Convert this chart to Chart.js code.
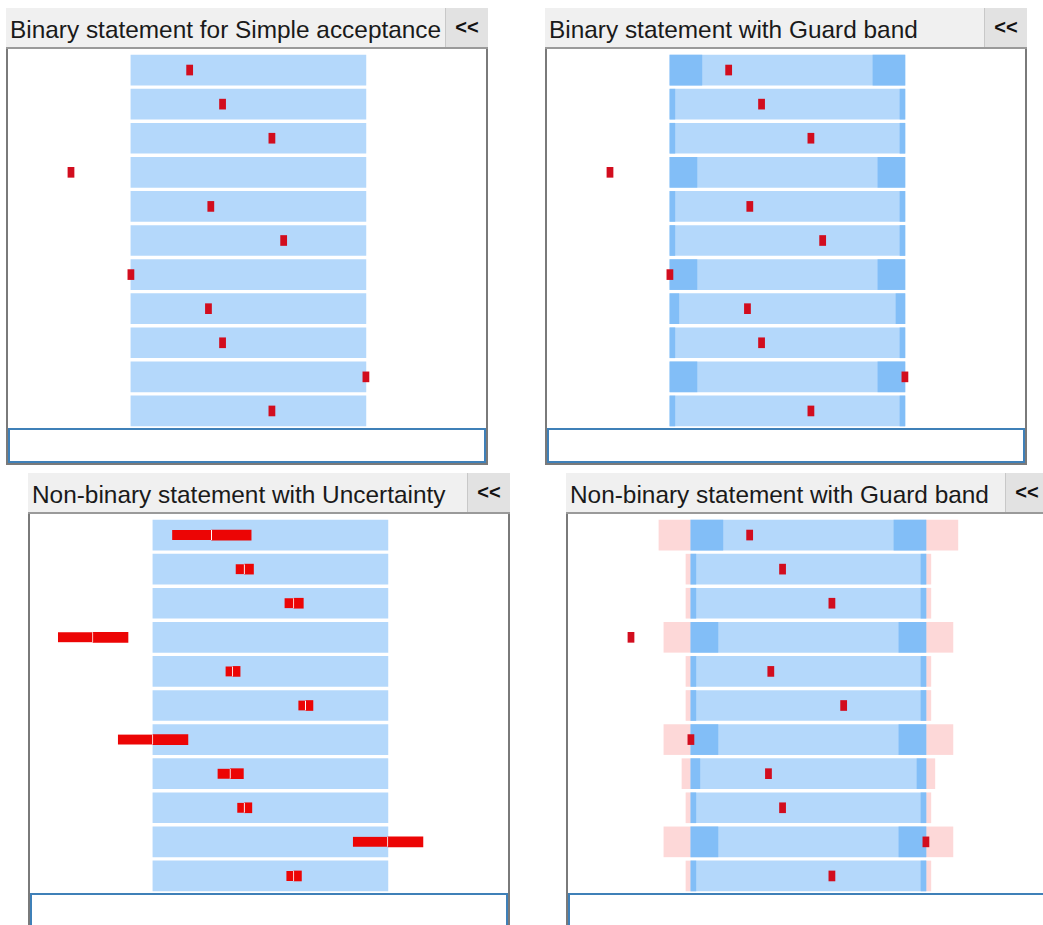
<!DOCTYPE html>
<html>
<head>
<meta charset="utf-8">
<script src="https://cdn.jsdelivr.net/npm/chart.js@4.4.1/dist/chart.umd.min.js"></script>
<style>
  body { margin: 0; width: 1043px; height: 925px; overflow: hidden; background: #fff; font-family: "Liberation Sans", Arial, sans-serif; }
  .panel { position: absolute; width: 482px; height: 457px; }
  .head { position: absolute; left: 0; top: 0; width: 482px; height: 39px; background: #f0f0f0; border-bottom: 2px solid #9a9a9a; }
  .title { position: absolute; left: 4px; top: 4px; line-height: 36px; font-size: 24.4px; color: #1a1a1a; white-space: nowrap; }
  .btn { position: absolute; right: 0; top: 0; width: 42px; height: 39px; background: #e2e2e2; border-left: 1px solid #c8c8c8; font-weight: bold; font-size: 20px; line-height: 38px; text-align: center; color: #111; }
  .body { position: absolute; left: 0; top: 41px; width: 478px; height: 414px; border: 2px solid #7a7a7a; border-top: none; }
  .body canvas { position: absolute; left: 0; top: 0; }
  .input { position: absolute; left: 0; top: 379px; width: 474px; height: 31px; border: 2px solid #3f80b8; background: #fff; }
</style>
</head>
<body>

<div class="panel" id="p1" style="left:6px; top:8px;">
  <div class="head"><div class="title">Binary statement for Simple acceptance</div><div class="btn">&lt;&lt;</div></div>
  <div class="body"><canvas id="c1" width="478" height="379"></canvas><div class="input"></div></div>
</div>
<div class="panel" id="p2" style="left:545px; top:8px;">
  <div class="head"><div class="title">Binary statement with Guard band</div><div class="btn">&lt;&lt;</div></div>
  <div class="body"><canvas id="c2" width="478" height="379"></canvas><div class="input"></div></div>
</div>
<div class="panel" id="p3" style="left:28px; top:473px;">
  <div class="head"><div class="title">Non-binary statement with Uncertainty</div><div class="btn">&lt;&lt;</div></div>
  <div class="body"><canvas id="c3" width="478" height="379"></canvas><div class="input"></div></div>
</div>
<div class="panel" id="p4" style="left:566px; top:473px;">
  <div class="head"><div class="title">Non-binary statement with Guard band</div><div class="btn">&lt;&lt;</div></div>
  <div class="body"><canvas id="c4" width="478" height="379"></canvas><div class="input"></div></div>
</div>

<script>
  const rows = ['1', '2', '3', '4', '5', '6', '7', '8', '9', '10', '11'];
  const measured = [25, 39, 60, -25.5, 34, 65, 0, 33, 39, 100, 60];
  const uncertainty = [16.8, 3.8, 4.0, 14.9, 3.1, 3.1, 14.9, 5.5, 3.1, 14.9, 3.2];
  const guardBand = [13.6, 2.1, 2.1, 11.5, 2.1, 2.1, 11.5, 3.8, 2.1, 11.5, 2.1];
  const lowerLimit = 0;
  const upperLimit = 100;

  // couleurs
  const blue = '#b4d8fb';
  const darkBlue = '#82bef7';
  const pink = '#fdd8d8';
  const markRed = '#d20d1e';
  const barRed = '#ec0505';
  const markHalf = 1.3;

  function bar(label, data, color, order, extra) {
    return Object.assign({
      label: label,
      data: data,
      backgroundColor: color,
      borderWidth: 0,
      grouped: false,
      order: order,
      barThickness: 30
    }, extra || {});
  }

  function makeChart(id, mode) {
    const datasets = [];
    datasets.push(bar('tolérance', rows.map(() => [lowerLimit, upperLimit]), blue, 3));

    if (mode === 'guard' || mode === 'nonbinary') {
      datasets.push(bar('garde gauche', guardBand.map(g => [lowerLimit, lowerLimit + g]), darkBlue, 2));
      datasets.push(bar('garde droite', guardBand.map(g => [upperLimit - g, upperLimit]), darkBlue, 2));
    }
    if (mode === 'nonbinary') {
      datasets.push(bar('zone gauche', guardBand.map(g => [lowerLimit - g, lowerLimit]), pink, 4));
      datasets.push(bar('zone droite', guardBand.map(g => [upperLimit, upperLimit + g]), pink, 4));
    }
    if (mode === 'uncertainty') {
      datasets.push(bar('U bas', measured.map((v, i) => [v - uncertainty[i], v]), barRed, 0,
        { barThickness: 10, borderSkipped: false, borderColor: '#ffffff', borderWidth: { top: 0, right: 1, bottom: 0, left: 0 } }));
      datasets.push(bar('U haut', measured.map((v, i) => [v, v + uncertainty[i]]), barRed, 0, { barThickness: 10 }));
    } else {
      datasets.push(bar('mesure', measured.map(v => [v - markHalf, v + markHalf]), markRed, 0, { barThickness: 10 }));
    }

    new Chart(document.getElementById(id), {
      type: 'bar',
      data: { labels: rows, datasets: datasets },
      options: {
        indexAxis: 'y',
        responsive: false,
        animation: false,
        layout: { padding: { top: 4, bottom: 0, left: 0, right: 0 } },
        plugins: { legend: { display: false }, tooltip: { enabled: false } },
        scales: {
          x: { type: 'linear', min: -52.3, max: 151.1, display: false },
          y: { display: false }
        }
      }
    });
  }

  makeChart('c1', 'simple');
  makeChart('c2', 'guard');
  makeChart('c3', 'uncertainty');
  makeChart('c4', 'nonbinary');
</script>
</body>
</html>
